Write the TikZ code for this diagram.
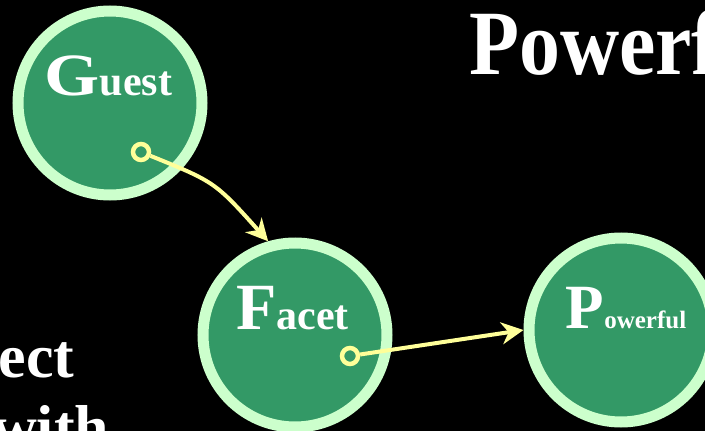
\documentclass[tikz,border=0pt]{standalone}
\usepackage{fontspec}
\setmainfont{Liberation Serif}
\usetikzlibrary{arrows.meta,calc}
\definecolor{nodegreen}{RGB}{51,153,102}
\definecolor{ringgreen}{RGB}{204,255,204}
\definecolor{linkyellow}{RGB}{255,255,153}
\begin{document}
\begin{tikzpicture}[x=1pt,y=-1pt,
  bubble/.style={circle, fill=nodegreen, draw=ringgreen, line width=11pt,
                 minimum size=184pt, inner sep=0pt},
  lbl/.style={text=white, font=\bfseries, inner sep=0pt, anchor=base},
  port/.style={circle, fill=nodegreen, draw=linkyellow, line width=4.5pt,
               minimum size=16pt, inner sep=0pt},
  link/.style={draw=linkyellow, line width=4pt,
               -{Stealth[length=22pt,width=22pt,inset=7pt]}},
  heading/.style={text=white, font=\bfseries, inner sep=0pt, anchor=base west}]
% black page
\fill[black] (0,0) rectangle (705,431);
\clip (0,0) rectangle (705,431);

% headline and body text running off the page edges
\node[heading] (title) at (469,74)
  {\scalebox{0.89}[1]{\fontsize{92}{92}\selectfont Powerf}};
\node[heading] (body1) at (-1.5,377) {\fontsize{62}{62}\selectfont ect};
\node[heading] (body2) at (-8,448) {\fontsize{62}{62}\selectfont with};

% the three bubbles
\node[bubble] (guest) at (110,103) {};
\node[bubble] (facet) at (295,335) {};
\node[bubble] (powerful) at (621,330) {};

\node[lbl] (guestlbl) at ($(guest)+(-1.5,-8)$)
  {\scalebox{1.18}[1]{\fontsize{60}{60}\selectfont G}\fontsize{42}{42}\selectfont uest};
\node[lbl] (facetlbl) at ($(facet)+(-2.5,-6)$)
  {\fontsize{66}{66}\selectfont F\fontsize{42}{42}\selectfont acet};
\node[lbl] (powerfullbl) at ($(powerful)+(5,-2)$)
  {\fontsize{63}{63}\selectfont P\fontsize{25}{25}\selectfont owerful};

% connection ports
\node[port] (gport) at ($(guest)+(31,49)$) {};
\node[port] (fport) at ($(facet)+(55,21)$) {};

% connectors
\draw[link] (gport) .. controls ($(guest)+(105,79)$) .. (facet.106);
\draw[link] (fport) -- (powerful.180);
\end{tikzpicture}
\end{document}
